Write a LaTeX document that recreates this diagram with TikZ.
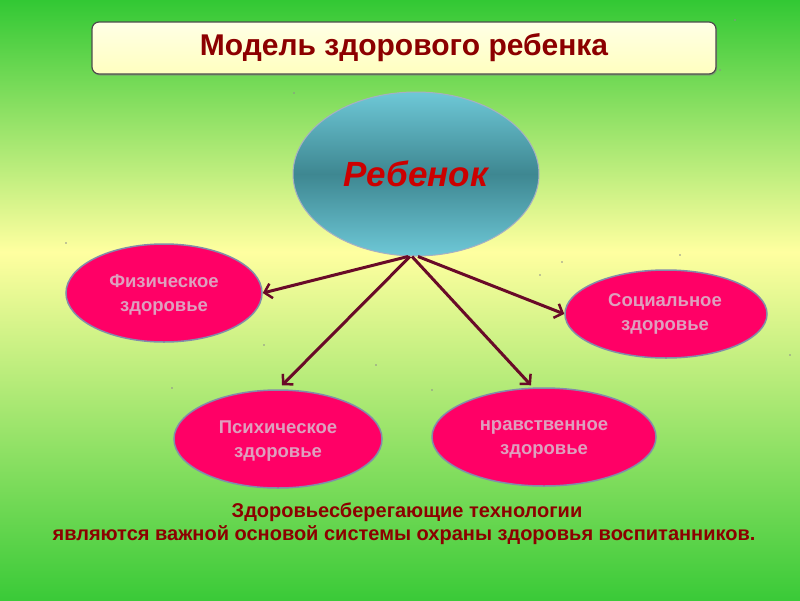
\documentclass[tikz,border=0pt]{standalone}
\usepackage{fontspec}
\setmainfont{Liberation Sans}
\usetikzlibrary{shapes.geometric,arrows.meta,calc,shadows}
\definecolor{bgtop}{RGB}{50,200,52}
\definecolor{bgyel}{RGB}{255,255,160}
\definecolor{bgbot}{RGB}{58,202,56}
\definecolor{titlered}{RGB}{140,0,0}
\definecolor{childred}{RGB}{204,0,0}
\definecolor{pinkfill}{RGB}{255,0,102}
\definecolor{pinktext}{RGB}{222,160,190}
\definecolor{rimgray}{RGB}{130,140,170}
\definecolor{arrowred}{RGB}{105,10,40}
\definecolor{tealhi}{RGB}{110,200,215}
\definecolor{tealdk}{RGB}{62,135,145}
\pgfdeclareverticalshading{bgshade}{100bp}{color(0bp)=(bgbot); color(25bp)=(bgbot); color(54bp)=(bgyel); color(75bp)=(bgtop); color(100bp)=(bgtop)}
\tikzset{
  health/.style={ellipse, draw=rimgray, line width=1.5pt, fill=pinkfill, inner sep=0pt},
  htext/.style={text=pinktext, font=\bfseries\fontsize{18.5}{24}\selectfont, align=center, inner sep=0pt},
  link/.style={draw=arrowred, line width=3pt, -{Straight Barb[length=7pt,width=15pt,line width=2.5pt]}},
  note/.style={text=titlered, font=\bfseries\fontsize{20}{23}\selectfont}
}
\begin{document}
\begin{tikzpicture}[x=1pt,y=-1pt]
\useasboundingbox (0,0) rectangle (800,600);
\shade[shading=bgshade] (0,0) rectangle (800,600);
% title
\node[draw=black!70, line width=1.2pt, rounded corners=7pt, top color=white!90!yellow, bottom color=yellow!25,
  minimum width=624pt, minimum height=52pt, inner sep=0pt,
  drop shadow={shadow xshift=1pt, shadow yshift=-1.5pt, opacity=0.6},
  text=titlered, font=\bfseries\fontsize{30}{34}\selectfont] (title) at (404,48) {Модель здорового ребенка};
% center
\node[ellipse, draw=rimgray!70, line width=1pt, minimum width=246pt, minimum height=164pt, inner sep=0pt,
  top color=tealhi, bottom color=tealhi, middle color=tealdk,
  text=childred, font=\bfseries\itshape\fontsize{35}{38}\selectfont] (c) at (416,174) {Ребенок};
% health nodes
\node[health, minimum width=196pt, minimum height=98pt] (f) at (164,293) {};
\node[health, minimum width=202pt, minimum height=88pt] (s) at (666,314) {};
\node[health, minimum width=208pt, minimum height=98pt] (p) at (278,439) {};
\node[health, minimum width=224pt, minimum height=98pt] (n) at (544,437) {};
\node[htext] (ft) at ($(f.center)+(0,2)$) {Физическое\\здоровье};
\node[htext] (st) at ($(s.center)+(-1,0)$) {Социальное\\здоровье};
\node[htext] (pt) at ($(p.center)+(0,2)$) {Психическое\\здоровье};
\node[htext] (nt) at ($(n.center)+(0,2)$) {нравственное\\здоровье};
% arrows
\draw[link] ($(c.south)+(-8,0)$) -- (f.east);
\draw[link] ($(c.south)+(-6,0)$) -- ($(p.north)+(4,-4)$);
\draw[link] ($(c.south)+(-4,0)$) -- ($(n.north)+(-13,-2)$);
\draw[link] ($(c.south)+(2,0)$) -- (s.west);
% bottom text
\node[note] (t1) at (407,512) {Здоровьесберегающие технологии};
\node[note] (t2) at (404,535) {являются важной основой системы охраны здоровья воспитанников.};
% small dots
\foreach \x/\y in {294/93, 66/243, 264/345, 172/388, 376/365, 432/390, 680/255, 562/262, 540/275, 735/20, 720/70, 790/355}
  \fill[black!45] (\x,\y) circle (0.9pt);
\end{tikzpicture}
\end{document}
